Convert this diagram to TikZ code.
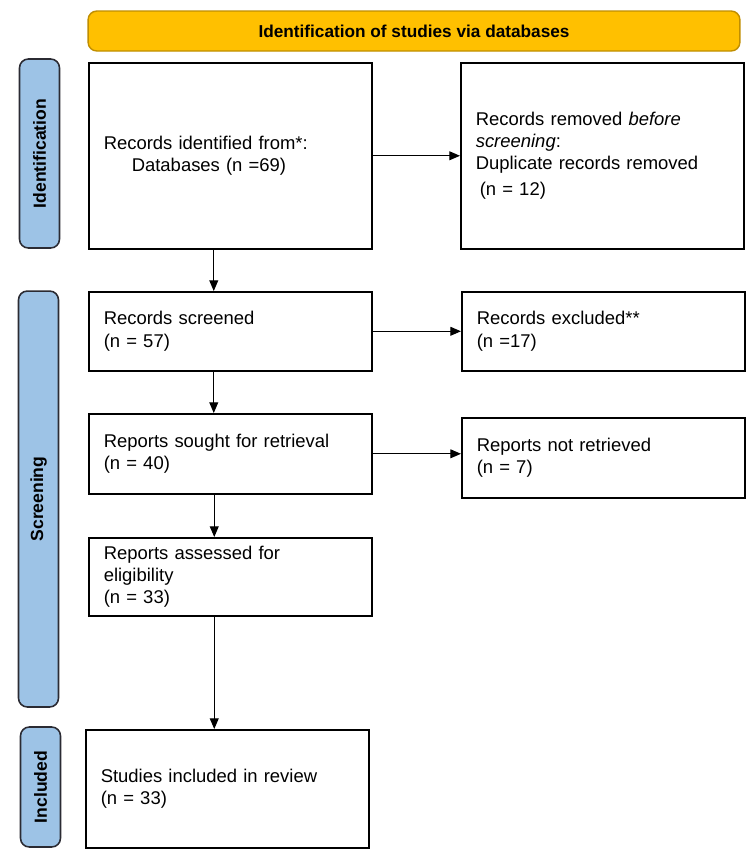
\documentclass[tikz,border=0pt]{standalone}
\usepackage{fontspec}
\setmainfont{Liberation Sans}
\usetikzlibrary{positioning,calc,arrows.meta}
\definecolor{bannerfill}{HTML}{FFC000}
\definecolor{bannerline}{HTML}{C08E00}
\definecolor{phasefill}{HTML}{9DC3E6}
\definecolor{phaseline}{HTML}{2B2B33}
\tikzset{
  stagebox/.style={draw,line width=0.9pt,anchor=north west,
    minimum width=5.66cm,text width=5.06cm,inner xsep=0.3cm,align=left,
    font=\fontsize{10.5}{12.6}\selectfont},
  phase/.style={draw=phaseline,fill=phasefill,line width=0.9pt,
    rounded corners=5pt,rotate=90,minimum height=0.8cm,
    font=\bfseries\fontsize{10}{12}\selectfont},
  banner/.style={draw=bannerline,fill=bannerfill,line width=0.8pt,
    rounded corners=5pt,minimum width=13.04cm,minimum height=0.8cm,
    font=\bfseries\fontsize{9.8}{12}\selectfont},
  flow/.style={line width=0.6pt,-{Triangle[length=6pt,width=5pt]}}
}
\begin{document}
\begin{tikzpicture}[x=0.02cm,y=-0.02cm]
  \useasboundingbox (0,0) rectangle (750,860);
  \node (head) [banner] at (414,31) {Identification of studies via databases};
  \node (idbar) [phase,minimum width=3.78cm] at (39.5,153.5) {Identification};
  \node (scbar) [phase,minimum width=8.32cm] at (38.5,499) {Screening};
  \node (inbar) [phase,minimum width=2.4cm] at (40.5,787) {Included};
  \node (ident) [stagebox,minimum height=3.72cm] at (88,62)
    {Records identified from*:\\ \hspace*{0.56cm}Databases (n =69)};
  \node (removed) [stagebox,minimum width=5.62cm,minimum height=3.72cm] at (460,62)
    {Records removed \textit{before}\\ \textit{screening}:\\
     Duplicate records removed\\[2pt] \hspace*{0.08cm}(n = 12)};
  \node (screened) [stagebox,minimum height=1.58cm] at (88,291)
    {Records screened\\ (n = 57)};
  \node (excluded) [stagebox,minimum height=1.58cm] at (461,291)
    {Records excluded**\\ (n =17)};
  \node (sought) [stagebox,minimum height=1.6cm] at (88,413)
    {Reports sought for retrieval\\ (n = 40)};
  \node (notret) [stagebox,minimum height=1.6cm] at (461,417)
    {Reports not retrieved\\ (n = 7)};
  \node (assessed) [stagebox,minimum height=1.56cm] at (88,537)
    {Reports assessed for\\ eligibility\\ (n = 33)};
  \node (incl) [stagebox,minimum height=2.36cm] at (85,729)
    {Studies included in review\\ (n = 33)};
  \draw [flow] (ident.east) -- (removed.west);
  \draw [flow] (screened.east) -- (excluded.west);
  \draw [flow] (sought.east) -- (sought.east -| notret.west);
  \draw [flow] ([xshift=-0.33cm]ident.south) -- ([xshift=-0.33cm]screened.north);
  \draw [flow] ([xshift=-0.33cm]screened.south) -- ([xshift=-0.33cm]sought.north);
  \draw [flow] ([xshift=-0.32cm]sought.south) -- ([xshift=-0.32cm]assessed.north);
  \draw [flow] ([xshift=-0.32cm]assessed.south) -- ([xshift=-0.32cm]assessed.south |- incl.north);
\end{tikzpicture}
\end{document}
